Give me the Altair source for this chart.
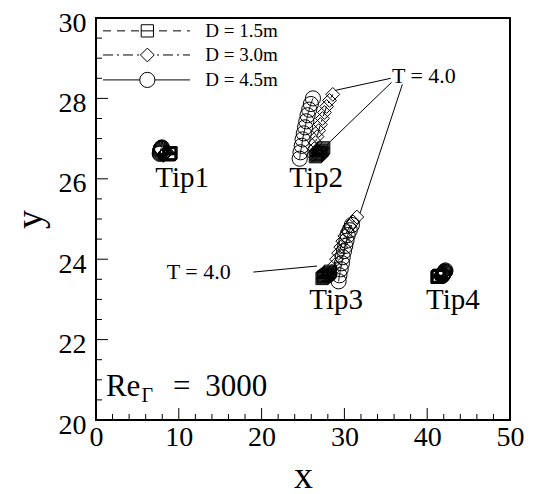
import altair as alt
import pandas as pd

# ---------------- data ----------------
D_labels = ["D = 1.5m", "D = 3.0m", "D = 4.5m"]

# Tip1
tip1_sq_x = [8.80, 8.83, 8.85, 8.88, 8.90, 8.93, 8.95, 8.97, 9.00, 9.02, 9.05]
tip1_sq_y = [26.60, 26.60, 26.61, 26.61, 26.62, 26.62, 26.63, 26.63, 26.64, 26.64, 26.65]
tip1_di_x = [8.10, 8.14, 8.19, 8.24, 8.28, 8.32, 8.36, 8.40, 8.44, 8.47, 8.50]
tip1_di_y = [26.58, 26.59, 26.60, 26.61, 26.62, 26.63, 26.64, 26.65, 26.66, 26.67, 26.68]
tip1_ci_x = [7.70, 7.72, 7.74, 7.76, 7.78, 7.80, 7.82, 7.85, 7.88, 7.92, 7.96]
tip1_ci_y = [26.62, 26.64, 26.66, 26.68, 26.70, 26.72, 26.74, 26.75, 26.76, 26.77, 26.78]

# Tip2
tip2_sq_x = [26.50, 26.60, 26.70, 26.80, 26.90, 27.00, 27.10, 27.20, 27.30, 27.40, 27.50]
tip2_sq_y = [26.55, 26.57, 26.59, 26.61, 26.63, 26.65, 26.67, 26.69, 26.71, 26.74, 26.77]
tip2_di_x = [26.20, 26.35, 26.50, 26.70, 26.90, 27.10, 27.35, 27.60, 27.85, 28.20, 28.60]
tip2_di_y = [26.60, 26.75, 26.90, 27.05, 27.20, 27.35, 27.50, 27.65, 27.80, 27.95, 28.10]
tip2_ci_x = [24.60, 24.70, 24.85, 24.95, 25.10, 25.25, 25.40, 25.55, 25.75, 25.95, 26.20]
tip2_ci_y = [26.50, 26.66, 26.82, 26.98, 27.13, 27.28, 27.43, 27.58, 27.72, 27.86, 28.00]

# Tip3
tip3_sq_x = [27.30, 27.40, 27.50, 27.60, 27.70, 27.80, 27.90, 28.00, 28.10, 28.20, 28.30]
tip3_sq_y = [23.52, 23.54, 23.56, 23.57, 23.59, 23.60, 23.62, 23.63, 23.65, 23.67, 23.70]
tip3_di_x = [28.50, 28.80, 29.05, 29.30, 29.55, 29.80, 30.05, 30.35, 30.65, 31.05, 31.50]
tip3_di_y = [23.70, 23.85, 24.00, 24.15, 24.30, 24.45, 24.58, 24.70, 24.82, 24.93, 25.05]
tip3_ci_x = [29.30, 29.40, 29.55, 29.70, 29.80, 29.95, 30.10, 30.25, 30.40, 30.65, 30.90]
tip3_ci_y = [23.45, 23.60, 23.75, 23.90, 24.05, 24.20, 24.33, 24.46, 24.60, 24.72, 24.85]

# Tip4
tip4_sq_x = [41.20, 41.22, 41.25, 41.28, 41.30, 41.33, 41.36, 41.38, 41.40, 41.43, 41.45]
tip4_sq_y = [23.55, 23.55, 23.56, 23.56, 23.57, 23.57, 23.58, 23.58, 23.59, 23.59, 23.60]
tip4_di_x = [41.60, 41.64, 41.68, 41.72, 41.76, 41.80, 41.84, 41.88, 41.92, 41.96, 42.00]
tip4_di_y = [23.56, 23.57, 23.58, 23.59, 23.60, 23.61, 23.62, 23.63, 23.64, 23.65, 23.66]
tip4_ci_x = [41.80, 41.84, 41.88, 41.92, 41.96, 42.00, 42.04, 42.08, 42.12, 42.16, 42.20]
tip4_ci_y = [23.58, 23.60, 23.61, 23.63, 23.64, 23.66, 23.67, 23.68, 23.69, 23.70, 23.72]

tip_names = ["Tip1", "Tip2", "Tip3", "Tip4"]
tip_label_x = [10.4, 26.6, 29.0, 43.1]
tip_label_y = [26.02, 26.02, 22.98, 22.98]

t_labels = ["T = 4.0", "T = 4.0"]
t_label_x = [39.6, 12.4]
t_label_y = [28.55, 23.68]

# leader lines for T = 4.0
lead_x = [35.6, 35.7, 37.0, 19.0]
lead_y = [28.50, 28.40, 28.35, 23.68]
lead_x2 = [28.9, 27.9, 31.9, 26.7]
lead_y2 = [28.20, 26.85, 25.15, 23.83]

x_major = [0, 10, 20, 30, 40, 50]
x_minor = [v for v in range(0, 51, 2) if v % 10 != 0]
y_major = [20, 22, 24, 26, 28, 30]
y_minor = [20 + 0.5 * i for i in range(21) if (0.5 * i) % 2 != 0]

# ---------------- build tables ----------------
series = [
    ("Tip1", 0, tip1_sq_x, tip1_sq_y), ("Tip1", 1, tip1_di_x, tip1_di_y), ("Tip1", 2, tip1_ci_x, tip1_ci_y),
    ("Tip2", 0, tip2_sq_x, tip2_sq_y), ("Tip2", 1, tip2_di_x, tip2_di_y), ("Tip2", 2, tip2_ci_x, tip2_ci_y),
    ("Tip3", 0, tip3_sq_x, tip3_sq_y), ("Tip3", 1, tip3_di_x, tip3_di_y), ("Tip3", 2, tip3_ci_x, tip3_ci_y),
    ("Tip4", 0, tip4_sq_x, tip4_sq_y), ("Tip4", 1, tip4_di_x, tip4_di_y), ("Tip4", 2, tip4_ci_x, tip4_ci_y),
]
rows = []
for tip, di, xs_, ys_ in series:
    for k, (a, b) in enumerate(zip(xs_, ys_)):
        rows.append({"tip": tip, "D": D_labels[di], "x": a, "y": b, "k": k, "s": f"{tip}-{di}"})
df = pd.DataFrame(rows)

W, H = 414, 402
FONT = "Liberation Serif"
SQ = "M-1,-1L1,-1L1,1L-1,1Z M-1,0L1,0"

xsc = alt.Scale(domain=[0, 50], nice=False, zero=False)
ysc = alt.Scale(domain=[20, 30], nice=False, zero=False)
shape_scale = alt.Scale(domain=D_labels, range=[SQ, "diamond", "circle"])
size_scale = alt.Scale(domain=D_labels, range=[150, 230, 220])
dash_scale = alt.Scale(domain=D_labels, range=[[8, 6], [10, 4, 2, 4], [1, 0]])

xaxis = alt.Axis(values=x_major, title="x", labelFlush=False, labelOverlap=False,
                 labelPadding=3, titlePadding=6)
yaxis = alt.Axis(values=y_major, title="y", labelFlush=False, labelOverlap=False,
                 labelPadding=10, titlePadding=9, labelOffset=5)

lines = alt.Chart(df).mark_line(color="black", strokeWidth=1).encode(
    x=alt.X("x:Q", scale=xsc, axis=xaxis),
    y=alt.Y("y:Q", scale=ysc, axis=yaxis),
    detail="s:N",
    order="k:Q",
    strokeDash=alt.StrokeDash("D:N", scale=dash_scale, legend=None),
)
points = alt.Chart(df).mark_point(filled=False, color="black", strokeWidth=1, opacity=1).encode(
    x="x:Q", y="y:Q",
    shape=alt.Shape("D:N", scale=shape_scale, legend=None),
    size=alt.Size("D:O", scale=size_scale, legend=None),
)

# ticks (inside)
def xt(vals, ln):
    return alt.Chart(pd.DataFrame({"x": vals})).mark_rule(color="black", strokeWidth=1).encode(
        x=alt.X("x:Q", scale=xsc), y=alt.value(H), y2=alt.value(H - ln))

def yt(vals, ln):
    return alt.Chart(pd.DataFrame({"y": vals})).mark_rule(color="black", strokeWidth=1).encode(
        y=alt.Y("y:Q", scale=ysc), x=alt.value(0), x2=alt.value(ln))

# labels
tipdf = pd.DataFrame({"x": tip_label_x, "y": tip_label_y, "t": tip_names})
tips = alt.Chart(tipdf).mark_text(font=FONT, fontSize=29, color="black", baseline="middle").encode(
    x="x:Q", y="y:Q", text="t:N")
tdf = pd.DataFrame({"x": t_label_x, "y": t_label_y, "t": t_labels})
tlab = alt.Chart(tdf).mark_text(font=FONT, fontSize=22, color="black", baseline="middle").encode(
    x="x:Q", y="y:Q", text="t:N")
ldf = pd.DataFrame({"x": lead_x, "y": lead_y, "x2": lead_x2, "y2": lead_y2})
leads = alt.Chart(ldf).mark_rule(color="black", strokeWidth=1).encode(
    x="x:Q", y="y:Q", x2="x2:Q", y2="y2:Q")

# legend (layout constants in data units)
LEG_Y = [29.68, 29.08, 28.46]
legdf = pd.DataFrame({"label": D_labels, "y": LEG_Y, "x": [0.85] * 3, "x2": [11.35] * 3,
                      "xm": [6.2] * 3, "xt": [13.2] * 3})
leg_lines = alt.Chart(legdf).mark_rule(color="black", strokeWidth=1).encode(
    x="x:Q", x2="x2:Q", y="y:Q",
    strokeDash=alt.StrokeDash("label:N", scale=dash_scale, legend=None))
leg_pts = alt.Chart(legdf).mark_point(filled=False, color="black", strokeWidth=1, opacity=1,
                                       fill="white").encode(
    x="xm:Q", y="y:Q",
    shape=alt.Shape("label:N", scale=shape_scale, legend=None),
    size=alt.Size("label:O", scale=alt.Scale(domain=D_labels, range=[90, 200, 210]), legend=None))
leg_txt = alt.Chart(legdf).mark_text(font=FONT, fontSize=19, color="black", align="left",
                                      baseline="middle").encode(
    x="xt:Q", y="y:Q", text="label:N")

# Re_Gamma = 3000
re_df = pd.DataFrame({"x": [1.2, 9.3, 13.2], "y": [20.82, 20.82, 20.82], "t": ["Re", "=", "3000"]})
re1 = alt.Chart(re_df).mark_text(font=FONT, fontSize=31, color="black", align="left",
                                 baseline="middle").encode(x="x:Q", y="y:Q", text="t:N")
g_df = pd.DataFrame({"x": [5.5], "y": [20.6], "t": ["Γ"]})
re2 = alt.Chart(g_df).mark_text(font=FONT, fontSize=20, color="black", align="left",
                                baseline="middle").encode(x="x:Q", y="y:Q", text="t:N")

chart = alt.layer(
    lines, points,
    xt(x_major, 12), xt(x_minor, 6), yt(y_major, 12), yt(y_minor, 6),
    leads, tips, tlab, leg_lines, leg_pts, leg_txt, re1, re2,
).properties(
    width=W, height=H, autosize="none",
    padding={"left": 88, "top": 10, "right": 42, "bottom": 74},
).configure_view(
    stroke="black", strokeWidth=2
).configure_axis(
    domain=False, ticks=False, grid=False,
    labelFont=FONT, labelFontSize=28, labelColor="black",
    titleFont=FONT, titleFontSize=38, titleFontWeight="normal", titleColor="black",
)

chart.save("out.html", embed_options={"renderer": "svg", "actions": False})
